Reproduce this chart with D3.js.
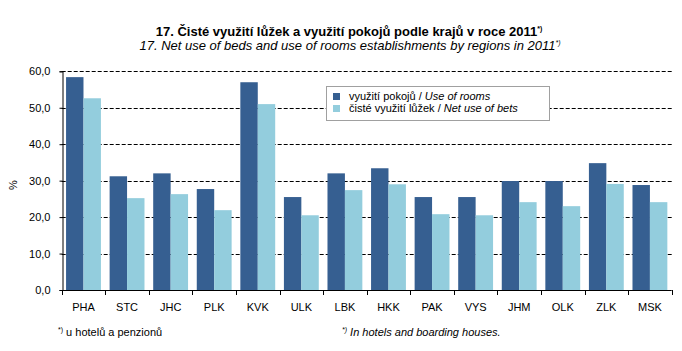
<!DOCTYPE html>
<html>
<head>
<meta charset="utf-8">
<script src="https://cdn.jsdelivr.net/npm/d3@7"></script>
<style>
  body { margin: 0; background: #fff; }
  text { font-family: "Liberation Sans", Arial, sans-serif; }
</style>
</head>
<body>
<div id="chart"></div>
<script>
var regions = ['PHA', 'STC', 'JHC', 'PLK', 'KVK', 'ULK', 'LBK', 'HKK', 'PAK', 'VYS', 'JHM', 'OLK', 'ZLK', 'MSK'];
var rooms = [58.4, 31.2, 32.0, 27.7, 57.0, 25.5, 32.0, 33.4, 25.5, 25.5, 29.9, 29.9, 34.8, 28.8];
var beds = [52.6, 25.2, 26.3, 21.9, 51.0, 20.5, 27.4, 29.0, 20.8, 20.5, 24.1, 23.0, 29.1, 24.1];
var yTicks = [0, 10, 20, 30, 40, 50, 60];
var color = ['#365f91', '#93cddd'];

var width = 682, height = 351;
var plotL = 61.7, plotR = 671.7, plotT = 71.3, plotB = 290;

var svg = d3.select('#chart').append('svg')
  .attr('width', width)
  .attr('height', height);

var x = d3.scaleBand().domain(regions).range([plotL, plotR]).paddingInner(0.2).paddingOuter(0.1);
var y = d3.scaleLinear().domain([0, 60]).range([plotB, plotT]);
var xs = d3.scaleBand().domain([0, 1]).range([0, x.bandwidth()]);

// grid
svg.append('g').selectAll('line')
  .data(yTicks.slice(1))
  .enter().append('line')
  .attr('x1', plotL).attr('x2', plotR)
  .attr('y1', function (d) { return Math.round(y(d)) + 0.5; })
  .attr('y2', function (d) { return Math.round(y(d)) + 0.5; })
  .attr('stroke', '#000')
  .attr('stroke-dasharray', '4,2');

// bars
var groups = svg.append('g').selectAll('g')
  .data(regions)
  .enter().append('g')
  .attr('transform', function (d) { return 'translate(' + x(d) + ',0)'; });

groups.append('rect')
  .attr('x', xs(0)).attr('width', xs.bandwidth())
  .attr('y', function (d, i) { return y(rooms[i]); })
  .attr('height', function (d, i) { return plotB - y(rooms[i]); })
  .attr('fill', color[0]);

groups.append('rect')
  .attr('x', xs(1)).attr('width', xs.bandwidth())
  .attr('y', function (d, i) { return y(beds[i]); })
  .attr('height', function (d, i) { return plotB - y(beds[i]); })
  .attr('fill', color[1]);

// axes
var yAxis = d3.axisLeft(y).tickValues(yTicks).tickSize(3).tickPadding(9)
  .tickFormat(function (d) { return d3.format('.1f')(d).replace('.', ','); });
var gy = svg.append('g').attr('transform', 'translate(' + (Math.round(plotL) + 0.5) + ',0)').call(yAxis);
gy.select('.domain').attr('stroke', '#000');
gy.selectAll('text').attr('font-size', 11).attr('fill', '#000');

var xAxis = d3.axisBottom(x).tickSize(0).tickPadding(13);
var gx = svg.append('g').attr('transform', 'translate(0,' + (plotB + 0.5) + ')').call(xAxis);
gx.select('.domain').attr('stroke', '#000').attr('d', 'M' + plotL + ',0H' + plotR);
gx.selectAll('text').attr('font-size', 11).attr('fill', '#000');

// x ticks between groups
var step = (plotR - plotL) / regions.length;
svg.append('g').selectAll('line')
  .data(d3.range(regions.length + 1))
  .enter().append('line')
  .attr('x1', function (i) { return Math.round(plotL + i * step) + 0.5; })
  .attr('x2', function (i) { return Math.round(plotL + i * step) + 0.5; })
  .attr('y1', plotB).attr('y2', plotB + 5)
  .attr('stroke', '#000');

svg.append('text')
  .attr('transform', 'translate(17,185) rotate(-90)')
  .attr('text-anchor', 'middle')
  .attr('font-size', 11)
  .text('%');

// title
var t1 = svg.append('text').attr('x', 349).attr('y', 36).attr('text-anchor', 'middle')
  .attr('font-size', 13).attr('font-weight', 'bold');
t1.append('tspan').text('17. Čisté využití lůžek a využití pokojů podle krajů v roce 2011');
t1.append('tspan').attr('font-size', 7).attr('dy', -5).text('*)');

var t2 = svg.append('text').attr('x', 350).attr('y', 50).attr('text-anchor', 'middle')
  .attr('font-size', 13).attr('font-style', 'italic');
t2.append('tspan').text('17. Net use of beds and use of rooms establishments by regions in 2011');
t2.append('tspan').attr('font-size', 7).attr('dy', -5).text('*)');

// legend
var lg = svg.append('g');
lg.append('rect').attr('x', 326.5).attr('y', 86.5).attr('width', 223).attr('height', 34)
  .attr('fill', '#fff').attr('stroke', '#a0a0a0');
var legendItems = [
  { a: 'využití pokojů / ', b: 'Use of rooms' },
  { a: 'čisté využití lůžek / ', b: 'Net use of bets' }
];
legendItems.forEach(function (item, i) {
  lg.append('rect').attr('x', 333).attr('y', 93 + i * 12).attr('width', 7).attr('height', 7).attr('fill', color[i]);
  var t = lg.append('text').attr('x', 349).attr('y', 100 + i * 12).attr('font-size', 11);
  t.append('tspan').text(item.a);
  t.append('tspan').attr('font-style', 'italic').text(item.b);
});

// footnotes
var f1 = svg.append('text').attr('x', 58).attr('y', 336).attr('font-size', 11);
f1.append('tspan').attr('font-size', 7).attr('dy', -4).text('*)');
f1.append('tspan').attr('dy', 4).text(' u hotelů a penzionů');

var f2 = svg.append('text').attr('x', 342).attr('y', 336).attr('font-size', 11).attr('font-style', 'italic');
f2.append('tspan').attr('font-size', 7).attr('dy', -4).text('*)');
f2.append('tspan').attr('dy', 4).text(' In hotels and boarding houses.');
</script>
</body>
</html>
